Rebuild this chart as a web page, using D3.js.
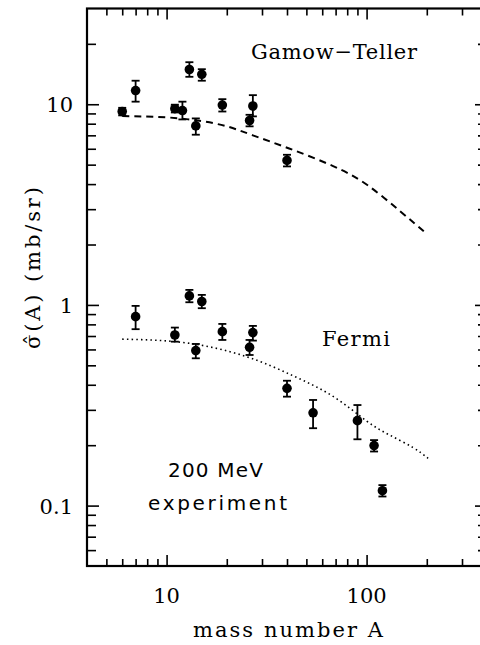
<!DOCTYPE html>
<html>
<head>
<meta charset="utf-8">
<script src="https://cdn.jsdelivr.net/npm/d3@7"></script>
<style>
  html, body { margin: 0; padding: 0; background: #fff; }
  svg { display: block; }
</style>
</head>
<body>
<svg id="chart" width="480" height="645"></svg>
<script>
// ---- data ----
const gtA   = [6, 7, 11, 12, 13, 15, 14, 19, 26, 27, 40];
const gtVal = [9.2, 11.7, 9.5, 9.3, 14.9, 14.1, 7.8, 9.9, 8.3, 9.8, 5.25];
const gtLo  = [8.8, 10.3, 9.1, 8.4, 13.7, 13.1, 7.05, 9.2, 7.76, 8.7, 4.9];
const gtHi  = [9.6, 13.1, 9.95, 10.3, 16.2, 14.95, 8.5, 10.6, 8.86, 11.1, 5.6];

const feA   = [7, 11, 13, 15, 14, 19, 26, 27, 40, 54, 90, 109, 120];
const feVal = [0.874, 0.708, 1.109, 1.04, 0.592, 0.736, 0.615, 0.728, 0.384, 0.290, 0.265, 0.199, 0.1186];
const feLo  = [0.757, 0.656, 1.031, 0.963, 0.542, 0.669, 0.563, 0.664, 0.349, 0.243, 0.214, 0.186, 0.111];
const feHi  = [0.989, 0.771, 1.188, 1.122, 0.639, 0.804, 0.669, 0.786, 0.419, 0.336, 0.317, 0.212, 0.1265];

const gtCurveA   = [6, 10, 14.6, 20, 27, 41, 68, 100, 146, 200];
const gtCurveVal = [8.74, 8.6, 8.27, 7.76, 7.0, 6.02, 4.92, 3.98, 2.95, 2.26];

const feCurveA   = [6, 12.5, 25, 43, 68, 100, 130, 170, 203];
const feCurveVal = [0.675, 0.647, 0.553, 0.443, 0.35, 0.264, 0.225, 0.195, 0.172];

const xMajor = [10, 100];
const xMinor = [5, 6, 7, 8, 9, 20, 30, 40, 50, 60, 70, 80, 90, 200, 300];
const yMajor = [0.1, 1, 10];
const yMinor = [0.06, 0.07, 0.08, 0.09, 0.2, 0.3, 0.4, 0.5, 0.6, 0.7, 0.8, 0.9,
                2, 3, 4, 5, 6, 7, 8, 9, 20];
const xTickLabels = ["10", "100"];
const yTickLabels = ["0.1", "1", "10"];

// ---- layout ----
const SERIF = "DejaVu Serif";
const SANS = "DejaVu Sans";
const L = 87, R = 487, T = 8.5, B = 566;
const svg = d3.select("#chart");
const x = d3.scaleLog().domain([4, 400]).range([L, R]);
const y = d3.scaleLog().domain([0.05, 30]).range([B, T]);

function ticks(axisFn, vals, size, transform) {
  const g = svg.append("g").attr("transform", transform)
    .call(axisFn.tickValues(vals).tickSize(size).tickSizeOuter(0).tickFormat(""));
  g.select(".domain").remove();
  g.selectAll(".tick line").attr("stroke", "#000").attr("stroke-width", 1.6);
  return g;
}
// bottom & top
ticks(d3.axisBottom(x), xMinor, -7, `translate(0,${B})`);
ticks(d3.axisBottom(x), xMajor, -11, `translate(0,${B})`);
ticks(d3.axisTop(x), xMinor, -7, `translate(0,${T})`);
ticks(d3.axisTop(x), xMajor, -11, `translate(0,${T})`);
// left & right
ticks(d3.axisLeft(y), yMinor, -9, `translate(${L},0)`);
ticks(d3.axisLeft(y), yMajor, -12, `translate(${L},0)`);
ticks(d3.axisRight(y), yMinor, -9, `translate(${R},0)`);
ticks(d3.axisRight(y), yMajor, -12, `translate(${R},0)`);

// frame
svg.append("rect").attr("x", L).attr("y", T).attr("width", R - L).attr("height", B - T)
  .attr("fill", "none").attr("stroke", "#000").attr("stroke-width", 2.2);

function txt(xp, yp, str, size, family) {
  return svg.append("text").attr("x", xp).attr("y", yp)
    .attr("font-family", family || SERIF)
    .attr("font-size", size).attr("fill", "#000").text(str);
}

// tick labels
xMajor.forEach((d, i) => txt(x(d), 603, xTickLabels[i], 21).attr("text-anchor", "middle"));
yMajor.forEach((d, i) => txt(73, y(d) + 8, yTickLabels[i], 21).attr("text-anchor", "end"));

// axis titles
txt(288, 637, "mass number A", 21).attr("text-anchor", "middle")
  .attr("textLength", 190).attr("lengthAdjust", "spacing");
txt(0, 0, "σ\u0302(A) (mb/sr)", 21).attr("transform", "translate(40,268) rotate(-90)")
  .attr("text-anchor", "middle").attr("textLength", 162).attr("lengthAdjust", "spacing");

// curves
const line = d3.line().x(d => x(d[0])).y(d => y(d[1])).curve(d3.curveNatural);
svg.append("path").datum(gtCurveA.map((a, i) => [a, gtCurveVal[i]]))
  .attr("d", line).attr("fill", "none").attr("stroke", "#000")
  .attr("stroke-width", 2).attr("stroke-dasharray", "7,5");
svg.append("path").datum(feCurveA.map((a, i) => [a, feCurveVal[i]]))
  .attr("d", line).attr("fill", "none").attr("stroke", "#000")
  .attr("stroke-width", 1.6).attr("stroke-dasharray", "1.5,3.2");

// data points with error bars
function points(A, V, lo, hi) {
  const data = A.map((a, i) => ({a, v: V[i], lo: lo[i], hi: hi[i]}));
  const g = svg.append("g");
  const p = g.selectAll("g").data(data).join("g");
  p.append("line").attr("x1", d => x(d.a)).attr("x2", d => x(d.a))
    .attr("y1", d => y(d.lo)).attr("y2", d => y(d.hi))
    .attr("stroke", "#000").attr("stroke-width", 1.8);
  p.append("line").attr("x1", d => x(d.a) - 4).attr("x2", d => x(d.a) + 4)
    .attr("y1", d => y(d.lo)).attr("y2", d => y(d.lo))
    .attr("stroke", "#000").attr("stroke-width", 1.8);
  p.append("line").attr("x1", d => x(d.a) - 4).attr("x2", d => x(d.a) + 4)
    .attr("y1", d => y(d.hi)).attr("y2", d => y(d.hi))
    .attr("stroke", "#000").attr("stroke-width", 1.8);
  p.append("circle").attr("cx", d => x(d.a)).attr("cy", d => y(d.v))
    .attr("r", 4.8).attr("fill", "#000");
}
points(gtA, gtVal, gtLo, gtHi);
points(feA, feVal, feLo, feHi);

// annotations
txt(251, 59, "Gamow\u2212Teller", 21).attr("textLength", 166).attr("lengthAdjust", "spacing");
txt(322, 345.5, "Fermi", 21).attr("textLength", 68).attr("lengthAdjust", "spacing");
txt(168, 477, "200 MeV", 20, SANS).attr("textLength", 95).attr("lengthAdjust", "spacing");
txt(148, 510, "experiment", 20, SANS).attr("textLength", 139).attr("lengthAdjust", "spacing");
</script>
</body>
</html>
